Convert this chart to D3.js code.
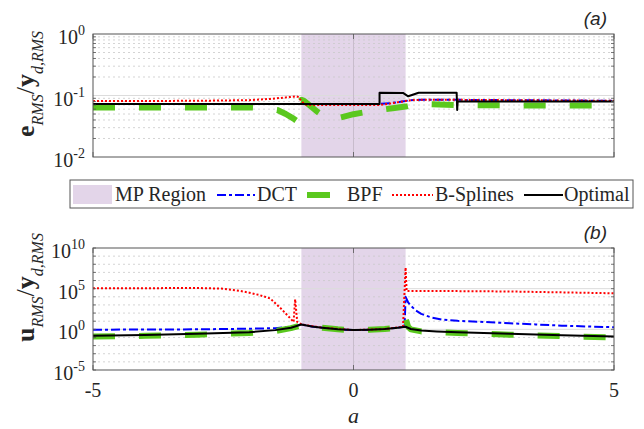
<!DOCTYPE html>
<html>
<head>
<meta charset="utf-8">
<style>
body { margin: 0; background: #fff; }
svg text { font-family: "Liberation Serif", "Nimbus Roman", "Times New Roman", Times, serif; fill: #262626; }
</style>
</head>
<body>
<svg width="644" height="429" font-family="Liberation Serif, serif"></svg>
<script src="https://d3js.org/d3.v7.min.js"></script>
<script>
// values

// panel (a): e_RMS / y_d,RMS
var aOptA = [-5, 0.5, 0.5, 0.95, 1.05, 1.15, 1.25, 1.98, 1.99, 2.0, 5];
var eOpt  = [0.073, 0.073, 0.111, 0.110, 0.097, 0.104, 0.111, 0.111, 0.058, 0.080, 0.080];
var aDctA = [-5, 0.5, 0.7, 0.9, 1.1, 1.3, 2, 3, 5];
var eDct  = [0.073, 0.073, 0.075, 0.079, 0.084, 0.085, 0.085, 0.084, 0.082];
var aBspA = [-5, -3, -2, -1.6, -1.3, -1.1, -1.05, -1.0, -0.9, 0.5, 0.7, 0.9, 1.1, 1.3, 2, 3, 5];
var eBsp  = [0.081, 0.082, 0.084, 0.088, 0.093, 0.097, 0.094, 0.080, 0.070, 0.070, 0.074, 0.079, 0.084, 0.085, 0.085, 0.084, 0.082];
var aBpfA = [-5, -2, -1.7, -1.46, -1.3, -1.15, -1.07, -1.03, -1.0, -0.95, -0.85, -0.7, -0.55, -0.4, -0.2, 0, 0.25, 0.5, 0.75, 1.0, 1.25, 1.5, 2, 3, 5];
var eBpf  = [0.064, 0.064, 0.062, 0.058, 0.05, 0.042, 0.0375, 0.06, 0.085, 0.082, 0.07, 0.055, 0.045, 0.041, 0.045, 0.0497, 0.054, 0.058, 0.062, 0.066, 0.073, 0.072, 0.070, 0.069, 0.069];

// panel (b): u_RMS / y_d,RMS
var aOptB = [-5, -4, -3, -2, -1.5, -1.2, -1.0, -0.8, -0.6, -0.3, 0, 0.3, 0.6, 0.85, 1.0, 1.1, 1.3, 1.6, 2, 3, 4, 5];
var uOpt  = [0.16, 0.2, 0.28, 0.45, 0.8, 1.6, 4.0, 2.2, 1.6, 1.0, 0.8, 0.9, 1.1, 1.6, 2.1, 1.1, 0.7, 0.56, 0.45, 0.28, 0.19, 0.13];
var aDctB = [-5, -3, -2, -1.5, -1.2, -1.0, -0.8, -0.6, -0.3, 0, 0.3, 0.6, 0.85, 0.98, 1.0, 1.05, 1.1, 1.2, 1.3, 1.5, 1.7, 2, 2.5, 3, 3.5, 4, 5];
var uDct  = [0.9, 1.0, 1.2, 1.4, 2.0, 4.0, 2.2, 1.6, 1.0, 0.8, 0.9, 1.1, 1.6, 2.1, 1e4, 2e3, 800, 200, 80, 28, 16, 11, 8, 5.6, 4, 2.8, 1.8];
var aBspB = [-5, -3, -2.5, -2.2, -2, -1.8, -1.6, -1.4, -1.25, -1.15, -1.12, -1.08, -1.0, -0.6, 0, 0.6, 0.95, 1.0, 1.02, 1.5, 2, 3, 4, 5];
var uBsp  = [1.1e5, 1.2e5, 1e5, 5.6e4, 3.2e4, 1.6e4, 6.3e3, 400, 40, 8, 5e3, 8, 4, 1.6, 0.8, 1.1, 2, 4e7, 5e4, 5.2e4, 5e4, 4.5e4, 3.5e4, 2.7e4];
var aBpfB = [-5, -4, -3, -2, -1.5, -1.2, -1.0, -0.8, -0.6, -0.3, 0, 0.3, 0.6, 0.85, 0.98, 1.0, 1.05, 1.1, 1.3, 1.6, 2, 3, 4, 5];
var uBpf  = [0.13, 0.16, 0.22, 0.35, 0.63, 1.4, 3.2, 2.2, 1.6, 1.0, 0.8, 0.9, 1.1, 1.6, 2.1, 20, 2, 1.0, 0.56, 0.45, 0.35, 0.22, 0.15, 0.1];

var mpRegion = [-1, 1];
var xTicks = [-5, 0, 5];
var legendNames = ["MP Region", "DCT", "BPF", "B-Splines", "Optimal"];

var serif = "'Liberation Serif', 'Nimbus Roman', 'Times New Roman', Times, serif";
var svg = d3.select("svg").style("font-family", serif);
var left = 93, right = 614;

var x = d3.scaleLinear().domain([-5, 5]).range([left, right]);

var styles = {
  DCT:       {color: "#0000ff", width: 2, dash: "9,3,3,3"},
  BPF:       {color: "#5ac81e", width: 6, dash: "22,24"},
  "B-Splines": {color: "#ff0000", width: 2, dash: "2,2"},
  Optimal:   {color: "#000000", width: 2, dash: null}
};

function panel(id, top, bottom, yDomain, series, majorExps, tag) {
  var y = d3.scaleLog().domain(yDomain).range([bottom, top]);
  var g = svg.append("g");

  g.append("clipPath").attr("id", "clip" + id)
    .append("rect").attr("x", left).attr("y", top)
    .attr("width", right - left).attr("height", bottom - top);

  g.append("rect")
    .attr("x", x(mpRegion[0])).attr("y", top)
    .attr("width", x(mpRegion[1]) - x(mpRegion[0])).attr("height", bottom - top)
    .attr("fill", "#e3d5e9");

  // grid
  var lo = Math.log10(yDomain[0]), hi = Math.log10(yDomain[1]);
  var minor = [];
  for (var e = Math.round(lo); e < Math.round(hi); e++) {
    for (var m = 2; m <= 9; m++) minor.push(m * Math.pow(10, e));
  }
  if (hi - lo > 4) {
    minor = [];
    for (var e2 = Math.round(lo) + 1; e2 < Math.round(hi); e2++) {
      if (majorExps.indexOf(e2) < 0) minor.push(Math.pow(10, e2));
    }
  }
  g.selectAll(".minor").data(minor).enter().append("line")
    .attr("x1", left).attr("x2", right)
    .attr("y1", d => y(d)).attr("y2", d => y(d))
    .attr("stroke", "#c9c9c9").attr("stroke-width", 0.8)
    .attr("stroke-dasharray", "2,3");
  g.selectAll(".major").data(majorExps.filter(e => e > lo && e < hi)).enter().append("line")
    .attr("x1", left).attr("x2", right)
    .attr("y1", d => y(Math.pow(10, d))).attr("y2", d => y(Math.pow(10, d)))
    .attr("stroke", "#dcdcdc").attr("stroke-width", 1);
  g.append("line")
    .attr("x1", x(0)).attr("x2", x(0)).attr("y1", top).attr("y2", bottom)
    .attr("stroke", "#c8bccc").attr("stroke-width", 1);

  var line = d3.line().x(d => x(d[0])).y(d => y(d[1]));
  var lines = g.append("g").attr("clip-path", "url(#clip" + id + ")");
  series.forEach(function(s) {
    var st = styles[s.name];
    lines.append("path")
      .datum(d3.zip(s.a, s.v))
      .attr("d", line)
      .attr("fill", "none")
      .attr("stroke", st.color)
      .attr("stroke-width", st.width)
      .attr("stroke-dasharray", st.dash)
      .attr("stroke-linejoin", "round");
  });

  // axes box and ticks
  g.append("rect").attr("x", left).attr("y", top)
    .attr("width", right - left).attr("height", bottom - top)
    .attr("fill", "none").attr("stroke", "#555").attr("stroke-width", 1);

  var tickVals = [];
  for (var t = Math.round(lo); t <= Math.round(hi); t++) tickVals.push(t);
  var minorTicks = hi - lo > 4 ? tickVals.map(t => Math.pow(10, t)) : minor;
  g.selectAll(".mt").data(minorTicks).enter().append("path")
    .attr("d", d => "M" + left + "," + y(d) + "h3M" + right + "," + y(d) + "h-3")
    .attr("stroke", "#555").attr("stroke-width", 0.8);
  g.selectAll(".xt").data(xTicks).enter().append("path")
    .attr("d", d => "M" + x(d) + "," + bottom + "v-5M" + x(d) + "," + top + "v5")
    .attr("stroke", "#555").attr("stroke-width", 0.8);

  var labels = tickVals.filter(t => majorExps.indexOf(t) >= 0 || hi - lo <= 4);
  var tl = g.selectAll(".yl").data(labels).enter().append("text")
    .attr("x", 85).attr("y", d => y(Math.pow(10, d)) + 10)
    .attr("text-anchor", "end")
    .style("font-family", serif).style("font-size", "20px");
  tl.append("tspan").text("10");
  tl.append("tspan").attr("dy", -9).style("font-size", "14px").text(d => String(d));

  svg.append("text").attr("x", 607).attr("y", top - 9)
    .attr("text-anchor", "end")
    .style("font-family", "'Liberation Sans', Arial, sans-serif")
    .style("font-style", "italic").style("font-size", "19px")
    .text(tag);
  return y;
}

panel("a", 34, 157, [1e-2, 1], [
  {name: "DCT", a: aDctA, v: eDct},
  {name: "BPF", a: aBpfA, v: eBpf},
  {name: "B-Splines", a: aBspA, v: eBsp},
  {name: "Optimal", a: aOptA, v: eOpt}
], [-2, -1, 0], "(a)");

panel("b", 248, 370, [1e-5, 1e10], [
  {name: "DCT", a: aDctB, v: uDct},
  {name: "BPF", a: aBpfB, v: uBpf},
  {name: "B-Splines", a: aBspB, v: uBsp},
  {name: "Optimal", a: aOptB, v: uOpt}
], [-5, 0, 5, 10], "(b)");

// x tick labels (bottom panel only)
svg.selectAll(".xl").data(xTicks).enter().append("text")
  .attr("x", d => x(d)).attr("y", 397)
  .attr("text-anchor", "middle")
  .style("font-family", serif).style("font-size", "20px")
  .text(d => d < 0 ? "-" + Math.abs(d) : String(d));
svg.append("text").attr("x", x(0)).attr("y", 423)
  .attr("text-anchor", "middle")
  .style("font-family", serif).style("font-size", "22px").style("font-style", "italic")
  .text("a");

// y labels
function yLabel(xPos, yPos, main) {
  var t = svg.append("text")
    .attr("transform", "translate(" + xPos + "," + yPos + ") rotate(-90)")
    .style("font-family", serif).style("font-size", "26px");
  t.append("tspan").style("font-weight", "bold").text(main);
  t.append("tspan").attr("dy", 9).style("font-size", "16px").style("font-style", "italic").text("RMS");
  t.append("tspan").attr("dy", -9).text("/");
  t.append("tspan").style("font-weight", "bold").text("y");
  t.append("tspan").attr("dy", 9).style("font-size", "16px").style("font-style", "italic").text("d,RMS");
}
yLabel(34, 137, "e");
yLabel(34, 342, "u");

// legend
var leg = svg.append("g");
leg.append("rect").attr("x", 70).attr("y", 180).attr("width", 563).attr("height", 28)
  .attr("fill", "#fff").attr("stroke", "#555").attr("stroke-width", 1);
leg.append("rect").attr("x", 73).attr("y", 185).attr("width", 39).attr("height", 19)
  .attr("fill", "#e3d5e9");
var legItems = [
  {x0: 217, x1: 255, tx: 257},
  {x0: 307, x1: 330, tx: 347},
  {x0: 392, x1: 433, tx: 435},
  {x0: 524, x1: 563, tx: 564}
];
leg.append("text").attr("x", 115).attr("y", 201)
  .style("font-family", serif).style("font-size", "20px").text(legendNames[0]);
legItems.forEach(function(it, i) {
  var st = styles[legendNames[i + 1]];
  leg.append("line").attr("x1", it.x0).attr("x2", it.x1).attr("y1", 195).attr("y2", 195)
    .attr("stroke", st.color).attr("stroke-width", st.width)
    .attr("stroke-dasharray", i === 1 ? null : st.dash);
  leg.append("text").attr("x", it.tx).attr("y", 201)
    .style("font-family", serif).style("font-size", "20px").text(legendNames[i + 1]);
});
</script>
</body>
</html>
